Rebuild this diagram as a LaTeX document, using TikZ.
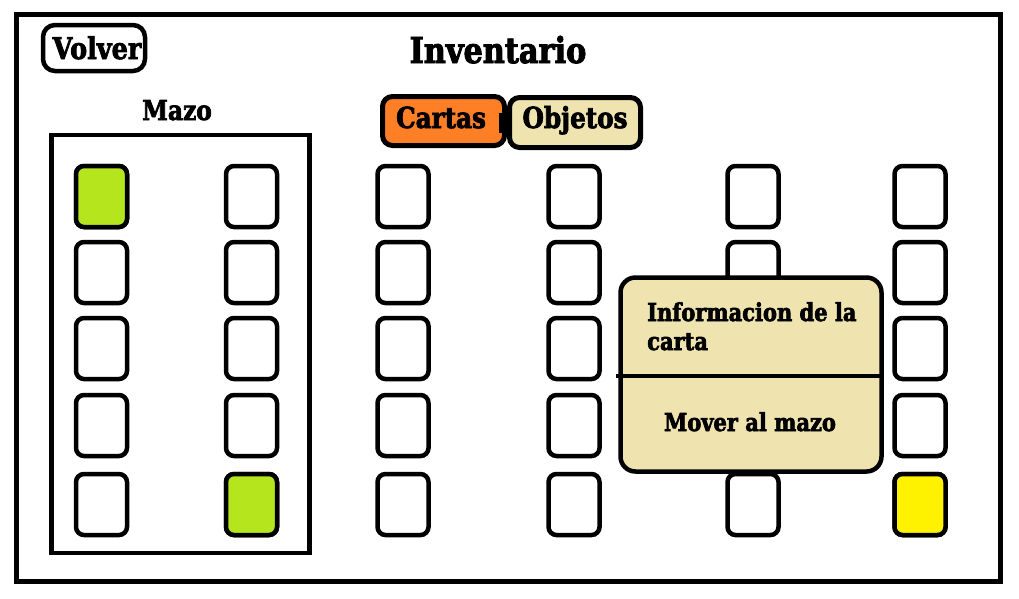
\documentclass[tikz,border=0pt]{standalone}
\usepackage{fontspec}
\setmainfont{DejaVu Serif}[FakeStretch=0.85, BoldFeatures={FakeBold=2.5}]
\definecolor{lime}{HTML}{B5E61D}
\definecolor{yel}{HTML}{FFF200}
\definecolor{orng}{HTML}{FF7F27}
\definecolor{tan}{HTML}{EFE4B0}
\tikzset{
  card/.style={draw, line width=4.5, rounded corners=8, minimum width=51, minimum height=61, inner sep=0},
  lbl/.style={inner sep=0, anchor=base, font=\bfseries},
  tab/.style={draw, line width=5, rounded corners=10, inner sep=0},
}
\newcommand{\fsz}[1]{\fontsize{#1}{#1}\selectfont}
\begin{document}
\begin{tikzpicture}[x=1pt,y=-1pt]
\useasboundingbox (0,0) rectangle (1019,598);
\node[draw, line width=5, minimum width=984, minimum height=567, inner sep=0] (frame) at (508,297.5) {};
% title
\node[lbl, font=\bfseries\fsz{35.7}] (title) at (498,63) {Inventario};
% volver
\node[draw, line width=4.5, rounded corners=12, minimum width=102, minimum height=46, inner sep=0] (volver) at (94,48) {};
\node[lbl, font=\bfseries\fsz{30}] (volvert) at (97,59) {Volver};
% mazo
\node[lbl, font=\bfseries\fsz{27.4}] (mazot) at (177,120) {Mazo};
\node[draw, line width=4.5, minimum width=258, minimum height=418, inner sep=0] (mazo) at (180.5,344) {};
% tabs
\node[tab, fill=orng, minimum width=122, minimum height=49] (cartas) at (443.5,121) {};
\node[tab, fill=tan, minimum width=131, minimum height=50] (objetos) at (575,122.5) {};
\draw[line width=5] ([xshift=-6,yshift=8]cartas.east) -- ([xshift=-6,yshift=-12]cartas.east);
\node[lbl, font=\bfseries\fsz{29}] (cartast) at (441,128) {Cartas};
\node[lbl, font=\bfseries\fsz{29}] (objetost) at (575,128) {Objetos};
% cards
\foreach \c/\x in {1/101.5,2/251.5,3/403,4/574,5/753,6/920}{
  \foreach \r/\y in {1/196.5,2/272.5,3/348.5,4/425.5,5/504.5}{
    \node[card] (c\c\r) at (\x,\y) {};
  }
}
\node[card, fill=lime] at (c11) {};
\node[card, fill=lime] at (c25) {};
\node[card, fill=yel] at (c65) {};
% popup
\node[draw, line width=4.5, rounded corners=15, fill=tan, minimum width=261, minimum height=194, inner sep=0] (popup) at (751,374.5) {};
\draw[line width=4.5] ([xshift=-2]popup.west |- 0,376) -- (popup.east |- 0,376);
\node[inner sep=0, anchor=base west, align=left, font=\bfseries\fontsize{24.7}{29}\selectfont] (info) at (647,350) {Informacion de la\\carta};
\node[lbl, font=\bfseries\fsz{24.7}] (mover) at (750,431) {Mover al mazo};
\end{tikzpicture}
\end{document}
